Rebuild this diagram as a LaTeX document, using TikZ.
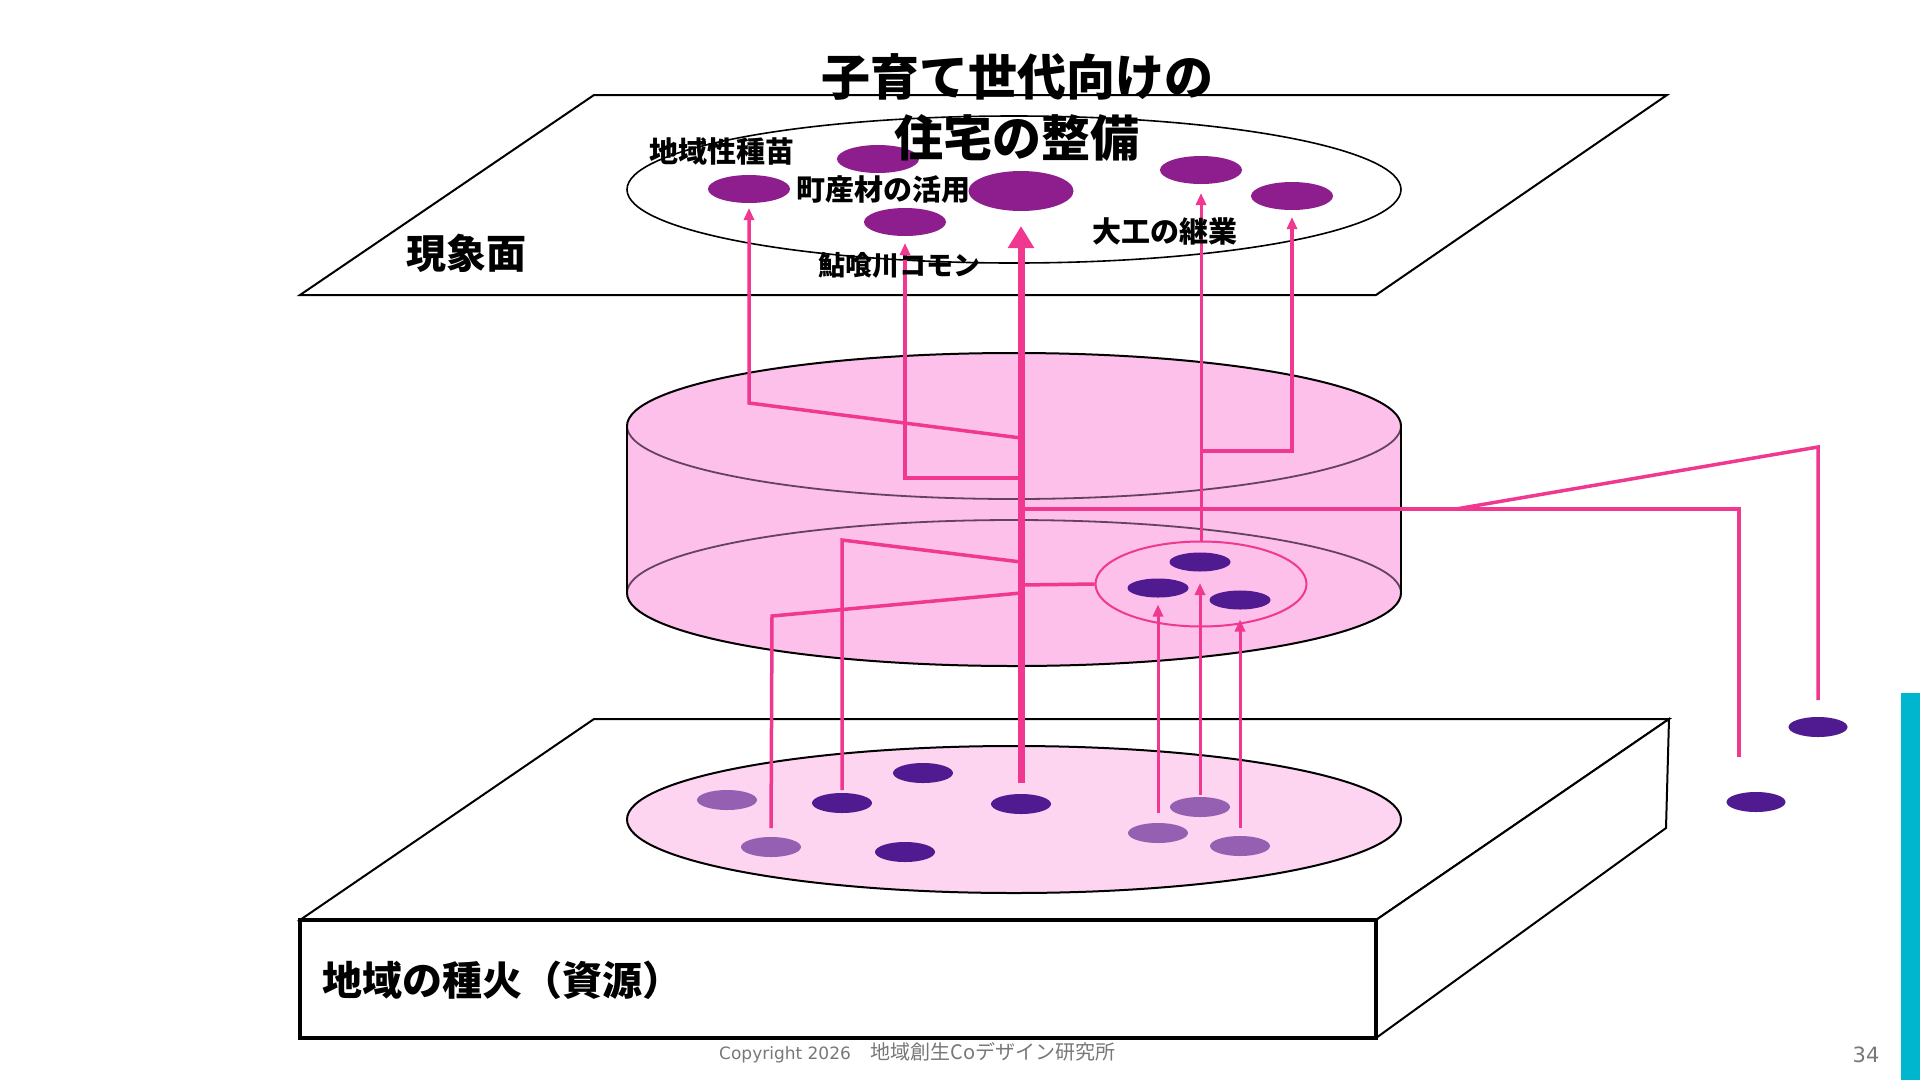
\documentclass[tikz,border=0pt]{standalone}
\usepackage{fontspec}
\setmainfont{DejaVu Sans}
\newfontfamily\jp{Noto Sans CJK JP}
\usetikzlibrary{arrows.meta,shapes.geometric}
\definecolor{lnpink}{RGB}{240,56,145}
\definecolor{topdot}{RGB}{142,30,142}
\definecolor{darkdot}{RGB}{80,26,145}
\definecolor{lightdot}{RGB}{150,96,178}
\definecolor{cylfill}{RGB}{252,192,234}
\definecolor{basefill}{RGB}{253,213,240}
\definecolor{mauve}{RGB}{100,66,96}
\definecolor{cyanbar}{RGB}{0,181,206}
\definecolor{footgray}{RGB}{120,120,120}
\begin{document}
\begin{tikzpicture}[x=1pt,y=-1pt,
  edge/.style={draw=black,line width=2pt,line join=miter},
  frontedge/.style={draw=black,line width=3.5pt,line join=miter},
  dotshape/.style={ellipse,inner sep=0pt,outer sep=0pt,draw=none},
  tdot/.style={dotshape,fill=topdot,minimum width=82pt,minimum height=28pt},
  bigtdot/.style={dotshape,fill=topdot,minimum width=105pt,minimum height=40pt},
  ddot/.style={dotshape,fill=darkdot,minimum width=60pt,minimum height=20pt},
  ldot/.style={dotshape,fill=lightdot,minimum width=60pt,minimum height=20pt},
  idot/.style={dotshape,fill=darkdot,minimum width=61pt,minimum height=19pt},
  pinkln/.style={draw=lnpink,line width=3.5pt},
  arr/.style={draw=lnpink,line width=3pt,-{Triangle[length=12pt,width=10pt]}},
  bigarr/.style={draw=lnpink,line width=7pt,-{Triangle[length=22pt,width=25pt]}},
  lbl/.style={font={\jp\bfseries\fontsize{29}{34}\selectfont},inner sep=0pt},
  biglbl/.style={font={\jp\bfseries\fontsize{40}{46}\selectfont},inner sep=0pt},
  titlelbl/.style={font={\jp\bfseries\fontsize{49}{61}\selectfont},inner sep=0pt,align=center},
]
\useasboundingbox (0,0) rectangle (1920,1080);
\fill[white] (0,0) rectangle (1920,1080);

% ---------- top plane ----------
\filldraw[edge,fill=white] (594,95) -- (1667,95) -- (1376,295) -- (300,295) -- cycle;
\draw[black,line width=1.6pt] (1014,189.5) ellipse [x radius=387pt,y radius=73.5pt];

% ---------- bottom box ----------
\filldraw[edge,fill=white] (594,719) -- (1669,719) -- (1376,920) -- (300,920) -- cycle;
\filldraw[edge,fill=white] (1669,719) -- (1666,828) -- (1376,1038) -- (1376,920) -- cycle;
\filldraw[frontedge,fill=white] (300,920) rectangle (1376,1038);
\filldraw[draw=black,line width=2pt,fill=basefill] (1014,819.5) ellipse [x radius=387pt,y radius=73.5pt];

% ---------- cylinder ----------
\fill[cylfill] (627,426) -- (627,593) arc[start angle=180,end angle=360,x radius=387pt,y radius=73pt]
  -- (1401,426) arc[start angle=0,end angle=180,x radius=387pt,y radius=73pt] -- cycle;
\draw[mauve,line width=1.8pt] (1401,593) arc[start angle=0,end angle=180,x radius=387pt,y radius=73pt];
\draw[mauve,line width=1.8pt] (627,426) arc[start angle=180,end angle=360,x radius=387pt,y radius=73pt];
\draw[black,line width=2pt] (1401,426) arc[start angle=0,end angle=180,x radius=387pt,y radius=73pt];
\draw[black,line width=2pt] (627,593) arc[start angle=180,end angle=360,x radius=387pt,y radius=73pt];
\draw[black,line width=2pt] (627,426) -- (627,593) (1401,426) -- (1401,593);

% ---------- dots ----------
\node[tdot] (t1) at (749,189) {};
\node[tdot] (t2) at (878,159) {};
\node[tdot] (t3) at (905,222) {};
\node[bigtdot] (t4) at (1021,191) {};
\node[tdot] (t5) at (1201,170) {};
\node[tdot] (t6) at (1292,196) {};

\node[ellipse,draw=lnpink,line width=2pt,inner sep=0pt,minimum width=211pt,minimum height=85pt] (inner) at (1201,584) {};
\node[idot] (i1) at (1200,562) {};
\node[idot] (i2) at (1158,588) {};
\node[idot] (i3) at (1240,600) {};

\node[ddot] (b1) at (923,773) {};
\node[ddot] (b2) at (842,803) {};
\node[ddot] (b3) at (1021,804) {};
\node[ddot] (b4) at (905,852) {};
\node[ldot] (l1) at (727,800) {};
\node[ldot] (l2) at (771,847) {};
\node[ldot] (l3) at (1200,807) {};
\node[ldot] (l4) at (1158,833) {};
\node[ldot] (l5) at (1240,846) {};

\node[ddot,minimum width=59pt] (r1) at (1818,727) {};
\node[ddot,minimum width=59pt] (r2) at (1756,802) {};

% ---------- junction coordinates ----------
\coordinate (ja) at (1021,438);
\coordinate (jb) at (1021,478);
\coordinate (jc) at (1021,509);
\coordinate (jd) at (1021,562);
\coordinate (je) at (1021,585);
\coordinate (jf) at (1021,593);
\coordinate (jg) at (1201,451);
\coordinate (jh) at (1456,509);
\coordinate (ka) at (749,403);
\coordinate (kb) at (842,540);
\coordinate (kc) at (772,616);
\coordinate (kd) at (1818,447);
\coordinate (ke) at (1739,509);
\coordinate (kf) at (1739,757);

% ---------- connectors ----------
\draw[pinkln] (jc) -- (ke) -- (kf);
\draw[pinkln] (jh) -- (kd) -- ([yshift=17pt]r1.north);
\draw[pinkln,shorten <=3pt] (b2.north) -- (kb) -- (jd);
\draw[pinkln,shorten <=9pt] (l2.north) -- (kc) -- (jf);
\draw[pinkln] (je) -- (inner.west);
\draw[arr,line width=3.5pt,shorten >=5pt] (ja) -- (ka) -- (t1.south);
\draw[arr,line width=3.5pt,shorten >=7pt] (jb) -- (t3.south |- jb) -- (t3.south);
\draw[arr,shorten >=9pt] (inner.north) -- (t5.south);
\draw[arr,line width=3.5pt,shorten >=7pt] (jg) -- (t6.south |- jg) -- (t6.south);
\draw[arr,shorten <=10pt,shorten >=7pt] (l4.north) -- (i2.south);
\draw[arr,shorten <=2pt,shorten >=11.5pt] (l3.north) -- (i1.south);
\draw[arr,shorten <=8pt,shorten >=10pt] (l5.north) -- (i3.south);
\draw[bigarr,shorten <=11pt,shorten >=15pt] (b3.north) -- (t4.south);

% ---------- labels ----------
\node[lbl] (lb1) at (722,151) {地域性種苗};
\node[lbl] (lb2) at (883,190) {町産材の活用};
\node[lbl,font={\jp\bfseries\fontsize{27}{32}\selectfont}] (lb3) at (899,265) {鮎喰川コモン};
\node[lbl] (lb4) at (1165,231) {大工の継業};
\node[titlelbl] (title) at (1017,107) {子育て世代向けの\\住宅の整備};
\node[biglbl] (plane) at (466,253) {現象面};
\node[biglbl,anchor=west] (base) at (322,980) {地域の種火（資源）};

% ---------- footer ----------
\node[anchor=west,inner sep=0pt,text=footgray,font={\fontsize{17}{20}\selectfont}] (copy) at (719,1053)
  {Copyright 2026{\jp\fontsize{20}{23}\selectfont 　地域創生Coデザイン研究所}};
\node[text=footgray,inner sep=0pt,font={\fontsize{21}{24}\selectfont}] (pagenum) at (1866,1055) {34};
\fill[cyanbar] (1901,693) rectangle (1920,1080);
\end{tikzpicture}
\end{document}
